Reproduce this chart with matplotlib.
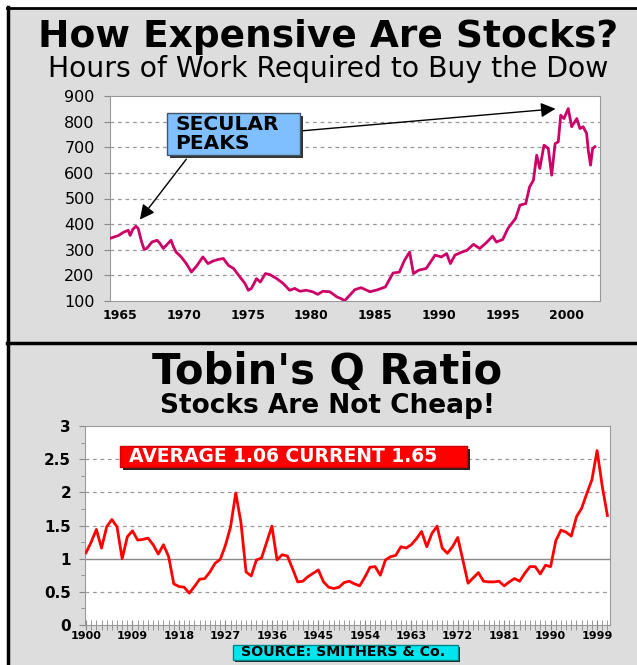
import matplotlib.pyplot as plt
import matplotlib.patches as patches
from matplotlib.lines import Line2D
import numpy as np

W, H = 637, 665

# hours of work required to buy the Dow
dow_years = [1964.2, 1964.9, 1965.3, 1965.65, 1965.8, 1966.0, 1966.25, 1966.43, 1966.7, 1966.9,
             1967.1, 1967.5, 1967.9, 1968.1, 1968.4, 1968.7, 1969.0, 1969.2, 1969.4, 1969.8,
             1970.2, 1970.6, 1971.0, 1971.5, 1971.9, 1972.3, 1972.7, 1973.1, 1973.5, 1973.9,
             1974.4, 1974.8, 1975.06, 1975.3, 1975.7, 1976.0, 1976.4, 1976.75, 1977.3, 1977.8,
             1978.3, 1978.7, 1979.1, 1979.6, 1980.1, 1980.5, 1980.9, 1981.45, 1982.0, 1982.35,
             1982.6, 1983.0, 1983.4, 1983.9, 1984.6, 1985.2, 1985.8, 1986.4, 1986.9, 1987.3,
             1987.7, 1988.0, 1988.4, 1989.0, 1989.7, 1990.2, 1990.6, 1990.9, 1991.25, 1991.8,
             1992.2, 1992.7, 1993.2, 1993.7, 1994.2, 1994.5, 1995.0, 1995.4, 1996.0, 1996.35,
             1996.8, 1997.1, 1997.4, 1997.66, 1997.9, 1998.23, 1998.57, 1998.83, 1999.1, 1999.35,
             1999.54, 1999.8, 2000.13, 2000.4, 2000.8, 2001.05, 2001.3, 2001.57, 2001.7, 2001.88,
             2002.04, 2002.22]
dow_hours = [344, 356, 369, 376, 356, 379, 392, 383, 330, 301,
             305, 330, 337, 327, 305, 321, 337, 311, 291, 272,
             246, 213, 236, 272, 246, 256, 262, 266, 239, 227,
             194, 168, 142, 149, 187, 174, 207, 203, 187, 168,
             142, 149, 138, 142, 136, 126, 138, 136, 116, 109,
             101, 122, 144, 152, 136, 144, 155, 209, 213, 259,
             291, 207, 220, 227, 279, 272, 285, 246, 279, 291,
             298, 321, 305, 327, 353, 330, 340, 383, 422, 474,
             480, 545, 571, 669, 617, 708, 695, 591, 714, 721,
             825, 812, 851, 780, 812, 773, 780, 754, 689, 630,
             695, 702]

# Tobin's Q ratio, annual
q_years = list(range(1900, 2002))
q_values = [1.09, 1.25, 1.44, 1.16, 1.48, 1.59, 1.48, 1.00, 1.33, 1.42,
            1.28, 1.29, 1.31, 1.21, 1.07, 1.21, 1.03, 0.62, 0.58, 0.57,
            0.48, 0.58, 0.69, 0.70, 0.80, 0.93, 0.99, 1.20, 1.48, 1.99,
            1.55, 0.80, 0.74, 0.98, 1.01, 1.25, 1.49, 0.98, 1.06, 1.04,
            0.85, 0.65, 0.66, 0.73, 0.78, 0.83, 0.65, 0.57, 0.55, 0.57,
            0.64, 0.66, 0.62, 0.59, 0.72, 0.87, 0.88, 0.75, 0.98, 1.03,
            1.05, 1.18, 1.16, 1.21, 1.30, 1.41, 1.18, 1.38, 1.49, 1.16,
            1.08, 1.18, 1.32, 0.98, 0.63, 0.71, 0.79, 0.66, 0.65, 0.65,
            0.66, 0.59, 0.65, 0.70, 0.66, 0.78, 0.88, 0.88, 0.77, 0.90,
            0.88, 1.27, 1.43, 1.40, 1.34, 1.63, 1.76, 1.98, 2.19, 2.63,
            2.09, 1.65]
q_ticks = list(range(1900, 2000, 9))


def box(x0, y0, x1, y1):
    """pixel box (top-left origin) -> figure fraction rect"""
    return [x0 / W, 1 - y1 / H, (x1 - x0) / W, (y1 - y0) / H]


def rect(fig, x0, y0, x1, y1, **kw):
    r = patches.Rectangle((x0 / W, 1 - y1 / H), (x1 - x0) / W, (y1 - y0) / H,
                          transform=fig.transFigure, **kw)
    fig.patches.append(r)


def hline(fig, x0, x1, y, lw, color='black'):
    fig.lines.append(Line2D([x0 / W, x1 / W], [1 - y / H, 1 - y / H], lw=lw, color=color,
                            transform=fig.transFigure))


def vline(fig, x, y0, y1, lw, color='black'):
    fig.lines.append(Line2D([x / W, x / W], [1 - y0 / H, 1 - y1 / H], lw=lw, color=color,
                            transform=fig.transFigure))


fig = plt.figure(figsize=(W / 100, H / 100), dpi=100)
fig.patch.set_facecolor('white')

# gray panel background and black frame
rect(fig, 8, 8, W, H, facecolor='#dddddd', edgecolor='none', zorder=-5)
hline(fig, 7, W, 8, 2)
vline(fig, 8, 7, H, 2.5)
hline(fig, 7, W, 343, 2.5)

# titles
fig.text(0.515, 1 - 37 / H, "How Expensive Are Stocks?", ha='center', va='center',
         fontsize=27, fontweight='bold')
fig.text(0.515, 1 - 69 / H, "Hours of Work Required to Buy the Dow", ha='center', va='center',
         fontsize=20.3)
fig.text(327 / W, 1 - 372 / H, "Tobin's Q Ratio", ha='center', va='center',
         fontsize=30, fontweight='bold')
fig.text(327 / W, 1 - 406 / H, "Stocks Are Not Cheap!", ha='center', va='center',
         fontsize=19, fontweight='bold')

# ---- top chart
ax1 = fig.add_axes(box(110, 96, 600, 301))
ax1.plot(dow_years, dow_hours, color='#cc0066', lw=2.0, zorder=3)
ax1.set_xlim(1964.22, 2002.62)
ax1.set_ylim(100, 900)
ax1.set_yticks(range(100, 1000, 100))
ax1.set_xticks(range(1965, 2001, 5))
ax1.tick_params(axis='y', labelsize=11.5, length=4, color='#888888', pad=7)
ax1.tick_params(axis='x', labelsize=9, length=0, pad=6)
for lab in ax1.get_xticklabels():
    lab.set_fontweight('bold')
for v in range(200, 900, 100):
    ax1.axhline(v, color='#999999', lw=0.9, ls=(0, (3, 3)), zorder=1)
for s in ax1.spines.values():
    s.set_color('#999999')

ax1.annotate('', xy=(1966.43, 409), xycoords='data',
             xytext=(188 / W, 1 - 157 / H), textcoords='figure fraction',
             arrowprops=dict(arrowstyle='-|>', color='black', lw=1, mutation_scale=22))
ax1.annotate('', xy=(1999.35, 851), xycoords='data',
             xytext=(300 / W, 1 - 131 / H), textcoords='figure fraction',
             arrowprops=dict(arrowstyle='-|>', color='black', lw=1, mutation_scale=22))

# secular peaks box
rect(fig, 170, 116, 303, 158, facecolor='#333333', edgecolor='none', zorder=5)
rect(fig, 167, 113, 300, 155, facecolor='#80bfff', edgecolor='#445566', lw=1, zorder=6)
fig.text(175 / W, 1 - 134 / H, "SECULAR\nPEAKS", ha='left', va='center', fontsize=14.5,
         fontweight='bold', linespacing=1.0, zorder=7)

# ---- bottom chart
ax2 = fig.add_axes(box(85, 426, 610, 625))
ax2.plot(q_years, q_values, color='#ff0000', lw=2, zorder=3)
ax2.set_xlim(1899.8, 2001.5)
ax2.set_ylim(0, 3)
ax2.set_yticks(np.arange(0, 3.01, 0.5))
ax2.set_yticklabels(['0', '0.5', '1', '1.5', '2', '2.5', '3'])
ax2.set_yticks(np.arange(0, 3.01, 0.25), minor=True)
ax2.set_xticks(q_ticks)
ax2.set_xticks(q_years, minor=True)
ax2.tick_params(axis='y', which='major', labelsize=11, length=4, color='#888888', pad=6)
ax2.tick_params(axis='y', which='minor', length=3, color='#888888')
ax2.tick_params(axis='x', which='both', direction='inout', length=7, color='#888888',
                labelsize=8, pad=1)
for lab in ax2.get_xticklabels() + ax2.get_yticklabels():
    lab.set_fontweight('bold')
for v in [0.5, 1.5, 2, 2.5]:
    ax2.axhline(v, color='#999999', lw=0.9, ls=(0, (3, 3)), zorder=1)
ax2.axhline(1, color='#888888', lw=1, zorder=1)
for s in ax2.spines.values():
    s.set_color('#999999')

# average / current box
rect(fig, 123, 449, 470, 470, facecolor='#222222', edgecolor='none', zorder=5)
rect(fig, 120, 446, 467, 467, facecolor='#ff0000', edgecolor='#cc0000', lw=1, zorder=6)
fig.text(283 / W, 1 - 456.5 / H, "AVERAGE 1.06 CURRENT 1.65", ha='center', va='center',
         fontsize=13.5, fontweight='bold', color='white', zorder=7)

# source box
rect(fig, 235, 647, 460, 662, facecolor='#222222', edgecolor='none', zorder=5)
rect(fig, 233, 645, 458, 660, facecolor='#00e5ee', edgecolor='#008888', lw=1, zorder=6)
fig.text(343 / W, 1 - 652.5 / H, "SOURCE: SMITHERS & Co.", ha='center', va='center',
         fontsize=10.2, fontweight='bold', color='black', zorder=7)

plt.savefig('out.png', dpi=100, facecolor=fig.get_facecolor())
